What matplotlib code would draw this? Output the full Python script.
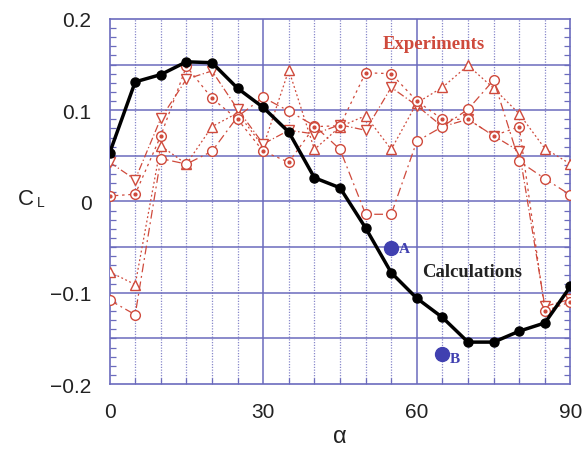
import matplotlib
matplotlib.use("Agg")
import matplotlib.pyplot as plt
from matplotlib.ticker import MultipleLocator, FixedLocator

# angle of attack, deg
alpha = [0, 5, 10, 15, 20, 25, 30, 35, 40, 45,
         50, 55, 60, 65, 70, 75, 80, 85, 90]

# computed lift coefficient
cl_calc = [0.053, 0.131, 0.139, 0.153, 0.152, 0.124, 0.103, 0.076, 0.026, 0.015,
           -0.029, -0.078, -0.106, -0.127, -0.154, -0.154, -0.142, -0.133, -0.093]

# measured runs
cl_tri_up = [-0.077, -0.091, 0.061, 0.041, 0.082, 0.097, 0.060, 0.144, 0.057, 0.082,
             0.094, 0.057, 0.108, 0.125, 0.149, 0.124, 0.096, 0.058, 0.041]
cl_tri_dn = [0.043, 0.024, 0.091, 0.134, 0.143, 0.101, 0.063, 0.078, 0.074, 0.084,
             0.078, 0.125, 0.105, 0.082, 0.090, 0.072, 0.055, -0.115, -0.107]
cl_circle = [-0.108, -0.124, 0.047, 0.041, 0.055, 0.093, 0.114, 0.099, 0.083, 0.057,
             -0.014, -0.014, 0.066, 0.082, 0.101, 0.133, 0.044, 0.025, 0.007]
cl_dot = [0.006, 0.008, 0.072, 0.148, 0.113, 0.090, 0.055, 0.043, 0.082, 0.083,
          0.141, 0.140, 0.110, 0.090, 0.090, 0.072, 0.082, -0.120, -0.110]

# reference points
pt_alpha = [55, 65]
pt_cl = [-0.051, -0.167]
pt_names = ["A", "B"]

RED = "#cf4a3c"
GRID = "#6b6bbd"
BLUE = "#4040b0"
SANS = "Liberation Sans"
SERIF = "Liberation Serif"

fig = plt.figure(figsize=(5.86, 4.52), dpi=100)
ax = fig.add_axes([0.187, 0.148, 0.7865, 0.808])

ax.set_xlim(0, 90)
ax.set_ylim(-0.2, 0.2)

# grid: solid horizontals every 0.05, dotted verticals every 5 deg, solid at 30/60
for y in [-0.15, -0.1, -0.05, 0, 0.05, 0.1, 0.15]:
    ax.axhline(y, color=GRID, lw=1.1, zorder=1)
for x in range(5, 90, 5):
    if x % 30 == 0:
        ax.axvline(x, color=GRID, lw=1.1, zorder=1)
    else:
        ax.axvline(x, color=GRID, lw=0.9, ls=(0, (1, 1.2)), alpha=0.8, zorder=1)

mk = dict(mfc="white", mec=RED, mew=1.0, ms=7, color=RED, lw=0.9, zorder=3)
ax.plot(alpha, cl_tri_up, marker="^", ls=(0, (1.5, 2)), **mk)
ax.plot(alpha, cl_tri_dn, marker="v", ls=(0, (6, 2, 1, 2)), **mk)
ax.plot(alpha, cl_circle, marker="o", ls=(0, (7, 3, 1.5, 3)), **mk)
ax.plot(alpha, cl_dot, marker="o", ls=(0, (2, 3)), **mk)
ax.plot(alpha, cl_dot, marker="o", ls="none", ms=2, mfc=RED, mec=RED, zorder=4)

ax.plot(alpha, cl_calc, color="black", lw=2.5, marker="o", ms=6.5, zorder=5)

ax.plot(pt_alpha, pt_cl, ls="none", marker="o", ms=10, color=BLUE, zorder=6)
ax.text(pt_alpha[0] + 1.5, pt_cl[0], pt_names[0], color=BLUE, fontsize=11,
        fontweight="bold", family=SERIF, va="center", zorder=6)
ax.text(pt_alpha[1] + 1.5, pt_cl[1] - 0.005, pt_names[1], color=BLUE, fontsize=11,
        fontweight="bold", family=SERIF, va="center", zorder=6)

ax.text(63.4, 0.173, "Experiments", color=RED, fontsize=13.5, fontweight="bold",
        family=SERIF, ha="center", va="center", zorder=7)
ax.text(70.8, -0.077, "Calculations", color="#222222", fontsize=13.5,
        fontweight="bold", family=SERIF, ha="center", va="center", zorder=7)

# ticks
ax.xaxis.set_major_locator(FixedLocator([0, 30, 60, 90]))
ax.xaxis.set_minor_locator(MultipleLocator(5))
ax.yaxis.set_minor_locator(MultipleLocator(0.01))
ax.set_yticks([-0.2, -0.1, 0, 0.1, 0.2])
ax.set_yticklabels(["\u22120.2", "\u22120.1", "0", "0.1", "0.2"])
ax.tick_params(which="both", direction="in", color=GRID, top=False, right=True)
ax.tick_params(which="major", length=0, labelsize=15, labelcolor="#222222")
ax.tick_params(which="minor", length=4, width=0.9)
ax.tick_params(axis="y", which="major", pad=13)
ax.tick_params(axis="x", which="major", pad=13)
for lab in ax.get_xticklabels() + ax.get_yticklabels():
    lab.set_family(SANS)
for s in ax.spines.values():
    s.set_color(GRID)
    s.set_linewidth(1.2)

ax.set_xlabel("\u03b1", fontsize=17, labelpad=3, color="#222222", family=SANS)
fig.text(0.045, 0.558, "C", fontsize=16, color="#222222", ha="center", va="center",
         family=SANS)
fig.text(0.069, 0.550, "L", fontsize=10, color="#222222", ha="center", va="center",
         family=SANS)

fig.savefig("out.png", dpi=100)
